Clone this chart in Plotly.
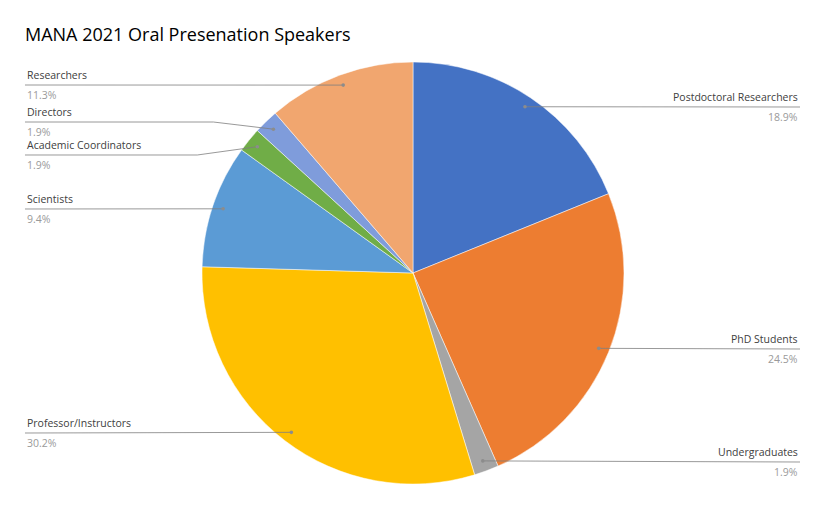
import numpy as np
import plotly.graph_objs as go

# Oral presentation speakers by category (counts, 53 total)
labels = ["Postdoctoral Researchers", "PhD Students", "Undergraduates", "Professor/Instructors",
          "Scientists", "Academic Coordinators", "Directors", "Researchers"]
counts = [10, 13, 1, 16, 5, 1, 1, 6]
colors = ["#4472C4", "#ED7D31", "#A5A5A5", "#FFC000", "#5B9BD5", "#70AD47", "#7F9CDB", "#F1A66F"]

W, H = 826, 511
OFF = 8  # page body margin shifts everything
cx, cy, r = 413, 273, 211
# y position (px) of each label's leader line
label_y = [107, 349, 462, 433, 209, 155, 122, 85]

def px(x, y):
    return (x - OFF) / W, 1 - (y - OFF) / H

x0, y0 = px(cx - r, cy + r)
x1, y1 = px(cx + r, cy - r)
fig = go.Figure(go.Pie(
    labels=labels, values=counts, sort=False, direction="clockwise", rotation=0,
    marker=dict(colors=colors, line=dict(color="white", width=0.5)),
    textinfo="none", hoverinfo="label+percent", showlegend=False,
    domain=dict(x=[x0, x1], y=[y0, y1]),
))

total = sum(counts)
cum = np.cumsum([0] + counts[:-1])
shapes, annotations = [], []
for name, c, start, ly in zip(labels, counts, cum, label_y):
    ang = (start + c / 2) / total * 2 * np.pi
    dx, dy = cx + 0.95 * r * np.sin(ang), cy - 0.95 * r * np.cos(ang)
    right = dx > cx
    ex = 800 if right else 25
    pts = [(ex, ly)]
    if abs(dy - ly) > 3:
        pts.append((dx + 60 if right else dx - 60, ly))
    pts.append((dx, dy))
    path = "M " + " L ".join("%f,%f" % px(*p) for p in pts)
    shapes.append(dict(type="path", path=path, xref="paper", yref="paper",
                       line=dict(color="#7F7F7F", width=0.8)))
    fx, fy = px(dx, dy)
    shapes.append(dict(type="circle", xref="paper", yref="paper",
                       x0=fx - 1.8 / W, x1=fx + 1.8 / W, y0=fy - 1.8 / H, y1=fy + 1.8 / H,
                       fillcolor="#8C8C8C", line=dict(width=0)))
    ax, lyp = px(ex, ly)
    anchor = "right" if right else "left"
    annotations.append(dict(x=ax, y=lyp + 1 / H, xref="paper", yref="paper", text=name,
                            showarrow=False, xanchor=anchor, yanchor="bottom",
                            font=dict(size=10.5, color="#404040")))
    annotations.append(dict(x=ax, y=lyp - 1 / H, xref="paper", yref="paper",
                            text="%.1f%%" % (100 * c / total),
                            showarrow=False, xanchor=anchor, yanchor="top",
                            font=dict(size=10.5, color="#9A9A9A")))

tx, ty = px(25, 35)
layout = go.Layout(
    width=W, height=H, margin=dict(l=0, r=0, t=0, b=0),
    paper_bgcolor="white", font=dict(family="Open Sans"),
    title=dict(text="MANA 2021 Oral Presenation Speakers", x=tx, xanchor="left",
               y=ty, yanchor="middle", font=dict(size=18, color="#000000")),
    shapes=shapes, annotations=annotations,
)
fig.update_layout(layout)
fig.write_html("out.html")
